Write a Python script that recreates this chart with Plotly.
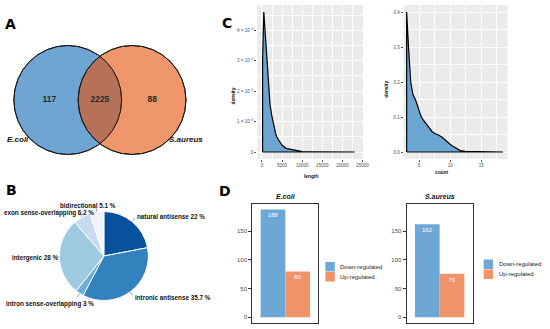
import math
import plotly.graph_objects as go

W, H = 550, 329


def px(x):
    return x / W


def py(y):
    return 1 - y / H


# ---------------- data ----------------
venn_sets = ["E.coli", "S.aureus"]
venn_counts = [117, 2225, 88]  # E.coli only, shared, S.aureus only

pie_labels = ["natural antisense", "intronic antisense", "intron sense-overlapping",
              "intergenic", "exon sense-overlapping", "bidirectional"]
pie_values = [22, 35.7, 3, 28, 6.2, 5.1]
pie_colors = ["#08519C", "#3182BD", "#6BAED6", "#9ECAE1", "#C6DBEF", "#EFF3FF"]

length_x = [150, 450, 750, 1050, 1600, 2000, 2500, 3000, 3500, 4000, 4500, 5000,
            6000, 7000, 8000, 9000, 10000, 12000, 15000, 20000, 23000]
length_density = [3.0e-4, 4.6e-4, 4.0e-4, 3.35e-4, 2.05e-4, 1.55e-4, 1.15e-4, 0.85e-4,
                  0.55e-4, 0.42e-4, 0.3e-4, 0.22e-4, 0.12e-4, 0.09e-4, 0.06e-4,
                  0.02e-4, 0.01e-4, 0.005e-4, 0.003e-4, 0.001e-4, 0.0]
length_ticks = [0, 5000, 10000, 15000, 20000, 25000]

count_x = [3.0, 3.3, 3.65, 4.0, 4.4, 4.8, 5.2, 5.6, 6.0, 6.5, 7.1, 7.6, 8.2, 8.7,
           9.2, 9.8, 10.3, 10.9, 11.6, 12.5, 14.0, 16.0, 18.5]
count_density = [0.40, 0.30, 0.20, 0.165, 0.15, 0.13, 0.107, 0.093, 0.084, 0.072,
                 0.058, 0.052, 0.048, 0.042, 0.033, 0.025, 0.018, 0.011, 0.004,
                 0.002, 0.001, 0.0003, 0.0]
count_ticks = [5, 10, 15]

reg_groups = ["Down-regulated", "Up-regulated"]
ecoli_counts = [188, 80]
saureus_counts = [162, 76]

# ---------------- styles ----------------
FONT = "Liberation Sans, Arial, sans-serif"
BLUE = "#6DA7D5"
ORANGE = "#EF936A"
DENS_FILL = "#6BA6D3"
TICK_COL = "#4D4D4D"

fig = go.Figure()

# ---------------- A: Venn ----------------
venn_cx = [68.5, 133.5]
venn_cy = 100
venn_r = 54.5
venn_text_x = [50, 101, 154]
fig.add_trace(go.Scatter(
    x=venn_text_x, y=[venn_cy] * 3, mode="text",
    text=[f"<b>{v}</b>" for v in venn_counts],
    textfont=dict(family=FONT, size=8.5, color="#2A2A2A"),
    xaxis="x", yaxis="y", hoverinfo="skip", showlegend=False))

venn_fills = ["rgba(13,105,180,0.6)", "rgba(230,80,8,0.6)"]
shapes = []
for cx, fc in zip(venn_cx, venn_fills):
    shapes.append(dict(type="circle", xref="x", yref="y", x0=cx - venn_r, x1=cx + venn_r,
                       y0=venn_cy - venn_r, y1=venn_cy + venn_r, fillcolor=fc,
                       line=dict(color="#1A1A1A", width=1), layer="below"))
for cx in venn_cx:
    shapes.append(dict(type="circle", xref="x", yref="y", x0=cx - venn_r, x1=cx + venn_r,
                       y0=venn_cy - venn_r, y1=venn_cy + venn_r, fillcolor="rgba(0,0,0,0)",
                       line=dict(color="#1A1A1A", width=1), layer="below"))

# ---------------- B: Pie ----------------
pie_c = (105, 256)
pie_r = 45
fig.add_trace(go.Pie(
    labels=pie_labels, values=pie_values, sort=False, direction="clockwise",
    marker=dict(colors=pie_colors, line=dict(color="white", width=1)),
    textinfo="none", hoverinfo="label+percent", showlegend=False,
    domain=dict(x=[px(pie_c[0] - pie_r), px(pie_c[0] + pie_r)],
                y=[py(pie_c[1] + pie_r), py(pie_c[1] - pie_r)])))

annotations = []
# label placements (pixel): (x, y, xanchor)
pie_label_pos = [(136, 217, "left"), (134, 297, "left"), (97, 304, "right"),
                 (62, 258, "right"), (97, 212.5, "right"), (119, 205.5, "right")]
tot = sum(pie_values)
cum = 0
for lab, val, (lx, ly, xa) in zip(pie_labels, pie_values, pie_label_pos):
    mid = (cum + val / 2) / tot * 2 * math.pi
    cum += val
    ex = pie_c[0] + pie_r * math.sin(mid)
    ey = pie_c[1] - pie_r * math.cos(mid)
    ox = pie_c[0] + (pie_r + 4) * math.sin(mid)
    oy = pie_c[1] - (pie_r + 4) * math.cos(mid)
    shapes.append(dict(type="line", xref="paper", yref="paper", x0=px(ex), y0=py(ey),
                       x1=px(ox), y1=py(oy), line=dict(color="#777777", width=0.7)))
    pct = f"{val:g}"
    annotations.append(dict(x=px(lx), y=py(ly), xref="paper", yref="paper",
                            text=f"<b>{lab} {pct} %</b>", showarrow=False,
                            xanchor=xa, yanchor="middle",
                            font=dict(family=FONT, size=6.3, color="#111111")))

# ---------------- C: density plots ----------------
def poly(xs, ys):
    return [xs[0]] + list(xs) + [xs[-1], xs[0]], [0] + list(ys) + [0, 0]


lx_, ly_ = poly(length_x, length_density)
fig.add_trace(go.Scatter(x=lx_, y=ly_, mode="lines", fill="toself", fillcolor=DENS_FILL,
                         line=dict(color="black", width=1.2), xaxis="x2", yaxis="y2",
                         showlegend=False, hoverinfo="skip"))
cx_, cy_ = poly(count_x, count_density)
fig.add_trace(go.Scatter(x=cx_, y=cy_, mode="lines", fill="toself", fillcolor=DENS_FILL,
                         line=dict(color="black", width=1.2), xaxis="x3", yaxis="y3",
                         showlegend=False, hoverinfo="skip"))

for ax in ["x2", "x3"]:
    shapes.append(dict(type="rect", xref=f"{ax} domain", yref=f"y{ax[1]} domain",
                       x0=0, x1=1, y0=0, y1=1, fillcolor="#EBEBEB",
                       line=dict(width=0), layer="below"))

# ---------------- D: bars ----------------
for counts, xa, ya in [(ecoli_counts, "x4", "y4"), (saureus_counts, "x5", "y5")]:
    fig.add_trace(go.Bar(x=reg_groups, y=counts, width=1,
                         marker=dict(color=[BLUE, ORANGE], line=dict(width=0)),
                         text=[str(v) for v in counts], textposition="inside",
                         insidetextanchor="end", constraintext="none",
                         textfont=dict(family=FONT, size=6, color="white"),
                         xaxis=xa, yaxis=ya, showlegend=False))

# manual legends
for lx0, ly0, tx in [(329, 262, 342), (489, 259.5, 502.5)]:
    for i, (g, col) in enumerate(zip(reg_groups, [BLUE, ORANGE])):
        y0 = ly0 + i * 10
        shapes.append(dict(type="rect", xref="paper", yref="paper", x0=px(lx0), x1=px(lx0 + 9.5),
                           y0=py(y0 + 9.5), y1=py(y0), fillcolor=col, line=dict(width=0)))
        annotations.append(dict(x=px(tx), y=py(y0 + 4.8), xref="paper", yref="paper", text=g,
                                showarrow=False, xanchor="left", yanchor="middle",
                                font=dict(family=FONT, size=6, color="#222222")))

# bar titles
for t, cxp in [("E.coli", 289), ("S.aureus", 445)]:
    annotations.append(dict(x=px(cxp), y=py(196.5), xref="paper", yref="paper",
                            text=f"<b><i>{t}</i></b>", showarrow=False,
                            xanchor="center", yanchor="middle",
                            font=dict(family=FONT, size=7, color="#111111")))

# venn set labels
annotations.append(dict(x=px(5), y=py(140), xref="paper", yref="paper",
                        text=f"<b><i>{venn_sets[0]}</i></b>", showarrow=False,
                        xanchor="left", yanchor="middle", font=dict(family=FONT, size=8, color="#111111")))
annotations.append(dict(x=px(207), y=py(140), xref="paper", yref="paper",
                        text=f"<b><i>{venn_sets[1]}</i></b>", showarrow=False,
                        xanchor="right", yanchor="middle", font=dict(family=FONT, size=8, color="#111111")))

# panel letters
for L, lxp, lyp in [("A", 11, 24), ("B", 11.5, 190), ("C", 230, 23), ("D", 227, 191)]:
    annotations.append(dict(x=px(lxp), y=py(lyp), xref="paper", yref="paper", text=f"<b>{L}</b>",
                            showarrow=False, xanchor="center", yanchor="middle",
                            font=dict(family="DejaVu Sans", size=14, color="black")))

# density axis titles
annotations += [
    dict(x=px(314), y=py(176), xref="paper", yref="paper", text="<b>length</b>", showarrow=False,
         font=dict(family=FONT, size=4.8, color="#111111")),
    dict(x=px(455), y=py(172), xref="paper", yref="paper", text="<b>count</b>", showarrow=False,
         font=dict(family=FONT, size=4.8, color="#111111")),
    dict(x=px(236.5), y=py(85), xref="paper", yref="paper", text="<b>density</b>", showarrow=False,
         textangle=-90, font=dict(family=FONT, size=4.8, color="#111111")),
    dict(x=px(395), y=py(79), xref="paper", yref="paper", text="<b>density</b>", showarrow=False,
         textangle=-90, font=dict(family=FONT, size=4.8, color="#111111")),
]

hidden = dict(visible=False, showgrid=False, zeroline=False)
small_tick = dict(family=FONT, size=4.5, color=TICK_COL)
dens_common = dict(showgrid=True, gridcolor="white", gridwidth=0.8, zeroline=False,
                   showline=False, ticks="outside", ticklen=2, tickwidth=0.5,
                   tickcolor="#555555", tickfont=small_tick)

y2_vals = [0, 1e-4, 2e-4, 3e-4, 4e-4]
y2_text = ["0"] + [f"{k} × 10<sup>−4</sup>" for k in range(1, 5)]


def mids(v):
    step = v[1] - v[0]
    return [v[0] - step / 2] + [a + step / 2 for a in v]


bar_y = dict(range=[-9.4, 197.4], tickvals=[0, 50, 100, 150], showgrid=False, zeroline=False,
             showline=True, mirror=True, linecolor="#333333", linewidth=1,
             ticks="outside", ticklen=3, tickwidth=0.6, tickcolor="#333333",
             tickfont=dict(family=FONT, size=6, color=TICK_COL))
bar_x = dict(range=[-0.84, 1.84], showticklabels=False, showgrid=False, zeroline=False,
             showline=True, mirror=True, linecolor="#333333", linewidth=1, ticks="")

minor_style = dict(showgrid=True, gridcolor="white", gridwidth=0.4, ticks="")

fig.update_layout(
    width=W, height=H, margin=dict(l=0, r=0, t=0, b=0),
    paper_bgcolor="white", plot_bgcolor="white", showlegend=False,
    font=dict(family=FONT),
    xaxis=dict(domain=[0, px(215)], range=[0, 215], **hidden),
    yaxis=dict(domain=[py(170), py(30)], range=[170, 30], **hidden),
    xaxis2=dict(domain=[px(260), px(367)], range=[-1200, 25100], anchor="y2",
                tickvals=length_ticks, ticktext=[str(t) for t in length_ticks],
                minor=dict(tickvals=mids(length_ticks), **minor_style),
                **dens_common),
    yaxis2=dict(domain=[py(159), py(5)], range=[-0.23e-4, 4.83e-4], anchor="x2",
                tickvals=y2_vals, ticktext=y2_text,
                minor=dict(tickvals=mids(y2_vals), **minor_style),
                **dens_common),
    xaxis3=dict(domain=[px(408), px(513)], range=[2.5, 19.2], anchor="y3",
                tickvals=count_ticks, ticktext=[str(t) for t in count_ticks],
                minor=dict(tickvals=mids(count_ticks), **minor_style),
                **dens_common),
    yaxis3=dict(domain=[py(159), py(5)], range=[-0.02, 0.42], anchor="x3",
                tickvals=[0, 0.1, 0.2, 0.3, 0.4], ticktext=["0.0", "0.1", "0.2", "0.3", "0.4"],
                minor=dict(tickvals=mids([0, 0.1, 0.2, 0.3, 0.4]), **minor_style),
                **dens_common),
    xaxis4=dict(domain=[px(255), px(322)], anchor="y4", **bar_x),
    yaxis4=dict(domain=[py(322.7), py(204)], anchor="x4", **bar_y),
    xaxis5=dict(domain=[px(411), px(478)], anchor="y5", **bar_x),
    yaxis5=dict(domain=[py(322.7), py(204)], anchor="x5", **bar_y),
    shapes=shapes, annotations=annotations,
)

fig.write_html("out.html", config={"displayModeBar": False},
               post_script="document.body.style.margin='0';")
